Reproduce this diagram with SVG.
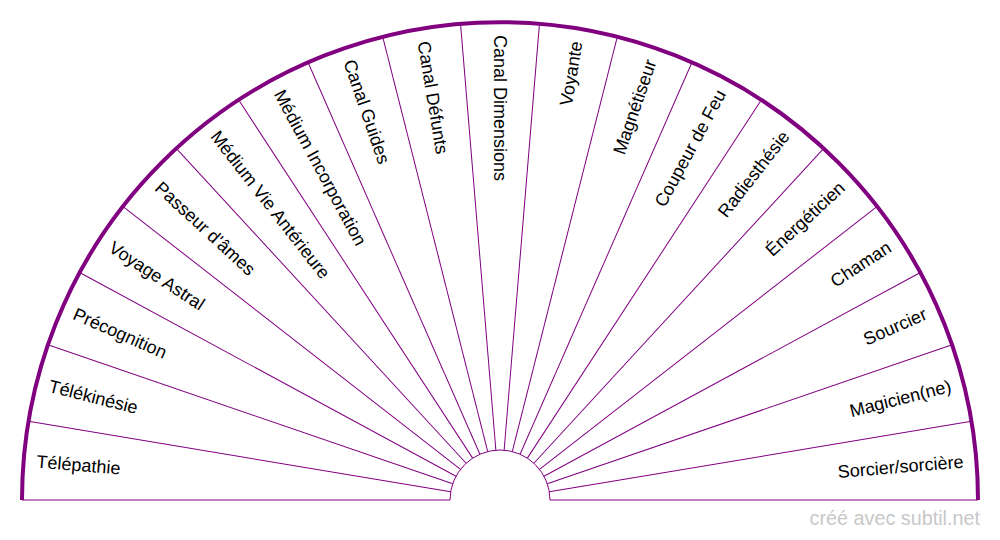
<svg xmlns="http://www.w3.org/2000/svg" width="1000" height="540" viewBox="0 0 1000 540">
<style>
.ray{stroke:#800080;stroke-width:1;fill:none}
.base{stroke:#800080;stroke-width:1;fill:none}
.rim{stroke:#800080;stroke-width:4;fill:none}
.lbl{font-family:"Liberation Sans",Arial,sans-serif;font-size:18px;fill:#000;dominant-baseline:central}
.l{text-anchor:start}
.r{text-anchor:end}
.wm{font-family:"Liberation Sans",Arial,sans-serif;font-size:19.8px;fill:#c8c8c8;text-anchor:end}
</style>
<rect width="1000" height="540" fill="#fff"/>
<g id="connectors">
<path class="base" d="M22,500 H450 M550,500 H978"/>
<path class="ray" d="M450,500 A50,50 0 0 1 550,500"/>
<line class="ray" x1="22" y1="500" x2="450" y2="500" transform="rotate(9.4737,500,500)"/>
<line class="ray" x1="22" y1="500" x2="450" y2="500" transform="rotate(18.9474,500,500)"/>
<line class="ray" x1="22" y1="500" x2="450" y2="500" transform="rotate(28.4211,500,500)"/>
<line class="ray" x1="22" y1="500" x2="450" y2="500" transform="rotate(37.8947,500,500)"/>
<line class="ray" x1="22" y1="500" x2="450" y2="500" transform="rotate(47.3684,500,500)"/>
<line class="ray" x1="22" y1="500" x2="450" y2="500" transform="rotate(56.8421,500,500)"/>
<line class="ray" x1="22" y1="500" x2="450" y2="500" transform="rotate(66.3158,500,500)"/>
<line class="ray" x1="22" y1="500" x2="450" y2="500" transform="rotate(75.7895,500,500)"/>
<line class="ray" x1="22" y1="500" x2="450" y2="500" transform="rotate(85.2632,500,500)"/>
<line class="ray" x1="22" y1="500" x2="450" y2="500" transform="rotate(94.7368,500,500)"/>
<line class="ray" x1="22" y1="500" x2="450" y2="500" transform="rotate(104.2105,500,500)"/>
<line class="ray" x1="22" y1="500" x2="450" y2="500" transform="rotate(113.6842,500,500)"/>
<line class="ray" x1="22" y1="500" x2="450" y2="500" transform="rotate(123.1579,500,500)"/>
<line class="ray" x1="22" y1="500" x2="450" y2="500" transform="rotate(132.6316,500,500)"/>
<line class="ray" x1="22" y1="500" x2="450" y2="500" transform="rotate(142.1053,500,500)"/>
<line class="ray" x1="22" y1="500" x2="450" y2="500" transform="rotate(151.5789,500,500)"/>
<line class="ray" x1="22" y1="500" x2="450" y2="500" transform="rotate(161.0526,500,500)"/>
<line class="ray" x1="22" y1="500" x2="450" y2="500" transform="rotate(170.5263,500,500)"/>
<path class="rim" d="M22,500 A478,478 0 0 1 978,500"/>
</g>
<g id="s0"><text class="lbl l" x="35" y="500" transform="rotate(4.7368,500,500)">Télépathie</text></g>
<g id="s1"><text class="lbl l" x="35" y="500" transform="rotate(14.2105,500,500)">Télékinésie</text></g>
<g id="s2"><text class="lbl l" x="35" y="500" transform="rotate(23.6842,500,500)">Précognition</text></g>
<g id="s3"><text class="lbl l" x="35" y="500" transform="rotate(33.1579,500,500)">Voyage Astral</text></g>
<g id="s4"><text class="lbl l" x="35" y="500" transform="rotate(42.6316,500,500)">Passeur d'âmes</text></g>
<g id="s5"><text class="lbl l" x="35" y="500" transform="rotate(52.1053,500,500)">Médium Vie Antérieure</text></g>
<g id="s6"><text class="lbl l" x="35" y="500" transform="rotate(61.5789,500,500)">Médium Incorporation</text></g>
<g id="s7"><text class="lbl l" x="35" y="500" transform="rotate(71.0526,500,500)">Canal Guides</text></g>
<g id="s8"><text class="lbl l" x="35" y="500" transform="rotate(80.5263,500,500)">Canal Défunts</text></g>
<g id="s9"><text class="lbl l" x="35" y="500" transform="rotate(90,500,500)">Canal Dimensions</text></g>
<g id="s10"><text class="lbl r" x="965" y="500" transform="rotate(-80.5263,500,500)">Voyante</text></g>
<g id="s11"><text class="lbl r" x="965" y="500" transform="rotate(-71.0526,500,500)">Magnétiseur</text></g>
<g id="s12"><text class="lbl r" x="965" y="500" transform="rotate(-61.5789,500,500)">Coupeur de Feu</text></g>
<g id="s13"><text class="lbl r" x="965" y="500" transform="rotate(-52.1053,500,500)">Radiesthésie</text></g>
<g id="s14"><text class="lbl r" x="965" y="500" transform="rotate(-42.6316,500,500)">Énergéticien</text></g>
<g id="s15"><text class="lbl r" x="965" y="500" transform="rotate(-33.1579,500,500)">Chaman</text></g>
<g id="s16"><text class="lbl r" x="965" y="500" transform="rotate(-23.6842,500,500)">Sourcier</text></g>
<g id="s17"><text class="lbl r" x="965" y="500" transform="rotate(-14.2105,500,500)">Magicien(ne)</text></g>
<g id="s18"><text class="lbl r" x="965" y="500" transform="rotate(-4.7368,500,500)">Sorcier/sorcière</text></g>
<text class="wm" x="980" y="525">créé avec subtil.net</text>
</svg>
